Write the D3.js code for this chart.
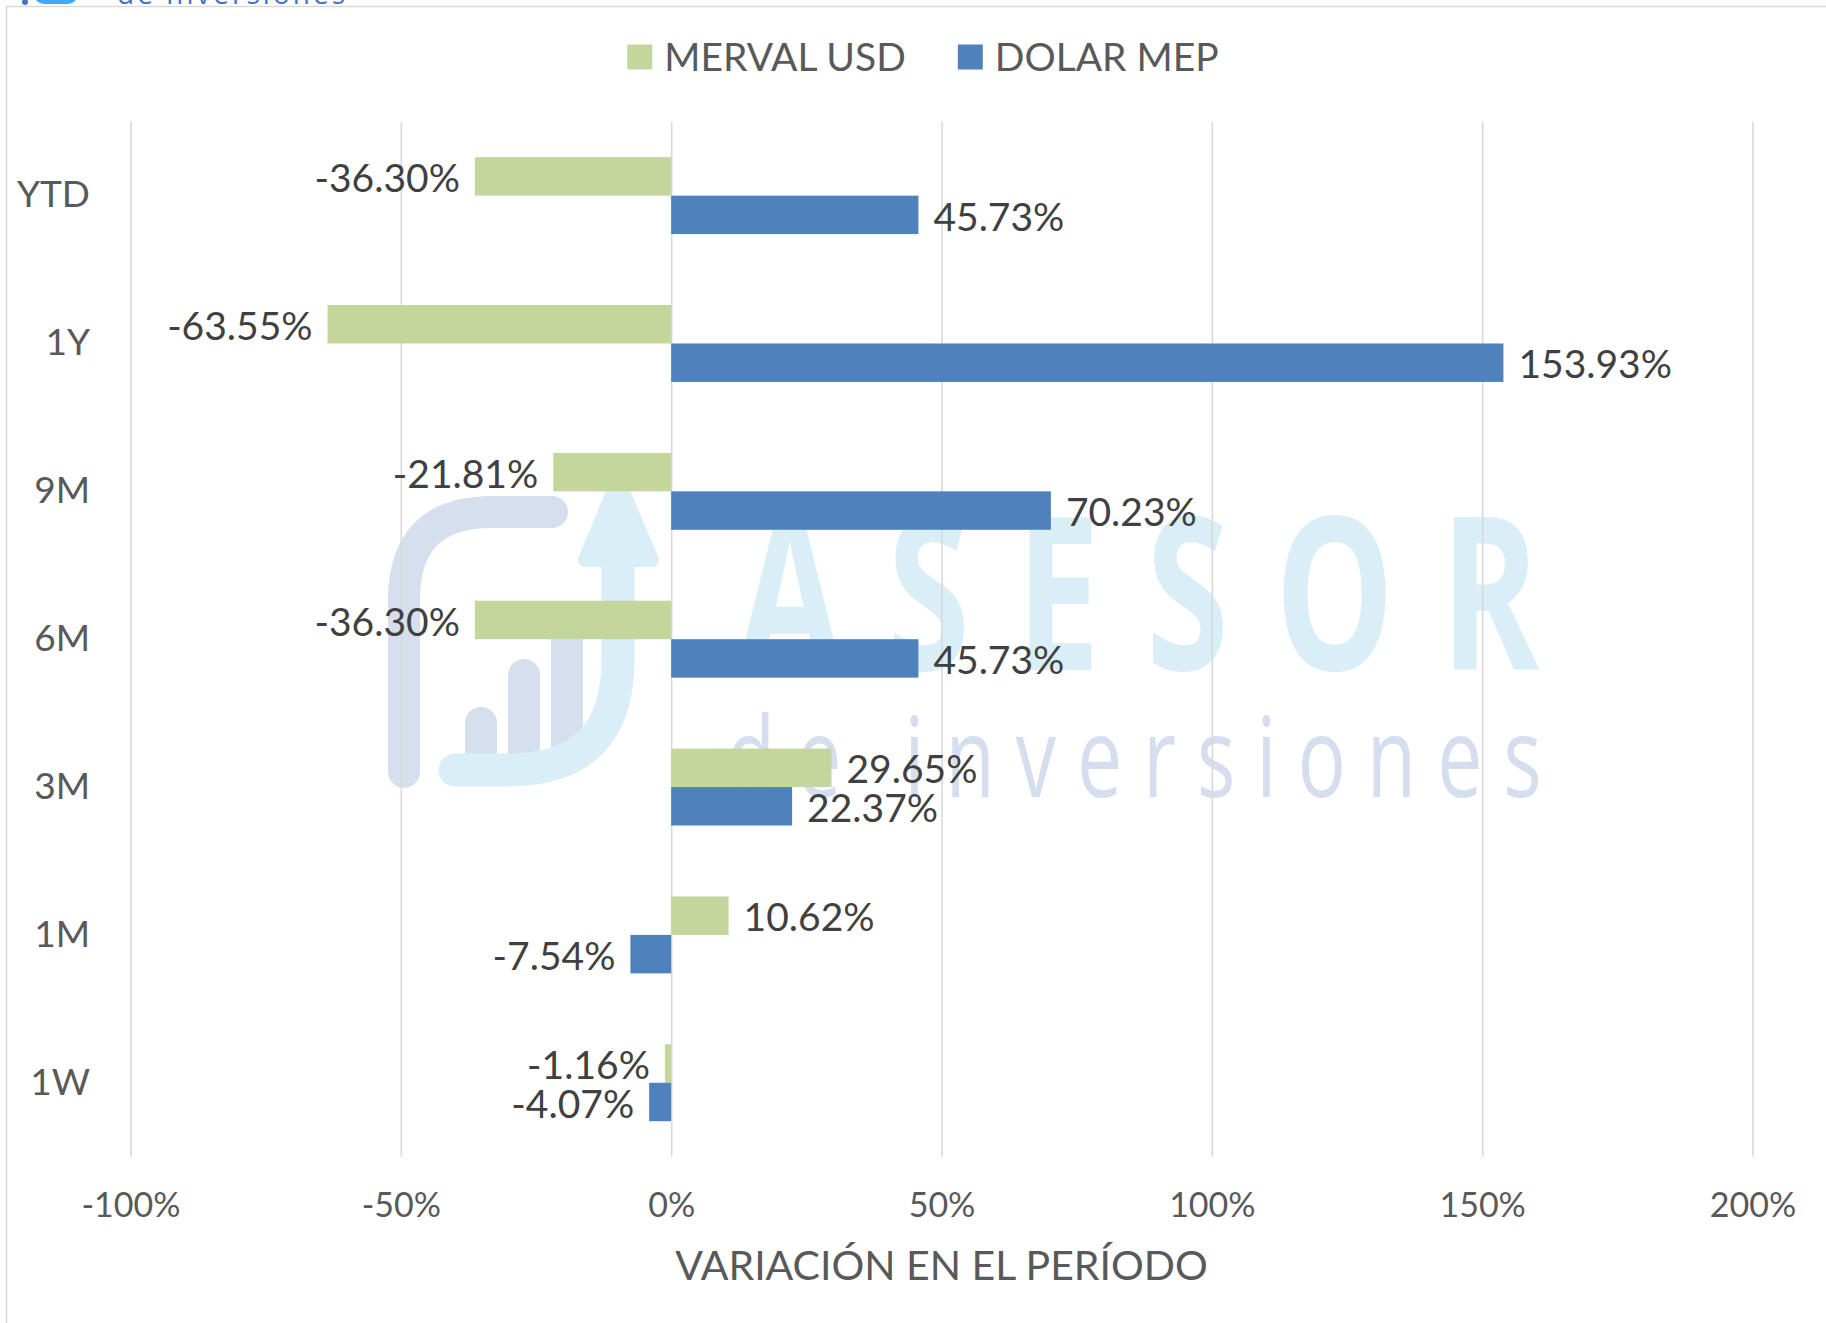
<!DOCTYPE html>
<html>
<head>
<meta charset="utf-8">
<script src="https://cdn.jsdelivr.net/npm/d3@7"></script>
<style>
  body { margin: 0; background: #fff; }
  svg { display: block; font-family: Lato, "Open Sans", sans-serif; }
</style>
</head>
<body>
<svg id="chart" width="1826" height="1323"></svg>
<script>
// data
const categories = ["YTD", "1Y", "9M", "6M", "3M", "1M", "1W"]
const mervalUsd = [-36.30, -63.55, -21.81, -36.30, 29.65, 10.62, -1.16]
const dolarMep = [45.73, 153.93, 70.23, 45.73, 22.37, -7.54, -4.07]
const seriesNames = ["MERVAL USD", "DOLAR MEP"]
const seriesColors = ["#C3D69B", "#4F81BD"]
const xTicks = [-100, -50, 0, 50, 100, 150, 200]
const axisTitle = "VARIACIÓN EN EL PERÍODO"

const svg = d3.select("#chart")
const W = 1826, H = 1323
const plot = { left: 130.5, right: 1752.5, top: 121.7, bottom: 1156.7 }

// plain hyphen, like the original, not d3's minus sign
const pct = function (v) { return d3.format(".2f")(v).replace("\u2212", "-") + "%" }

svg.append("rect").attr("width", W).attr("height", H).attr("fill", "#fff")

// frame of the chart
svg.append("rect")
  .attr("x", 6.5).attr("y", 6.5).attr("width", W + 20).attr("height", H + 20)
  .attr("fill", "none").attr("stroke", "#D9D9D9").attr("stroke-width", 1.5)

// logo cut off at the top edge
svg.append("text").attr("x", 117).attr("y", 4)
  .attr("font-family", "Open Sans").attr("font-size", 28).attr("letter-spacing", 3)
  .attr("fill", "#4472C4").text("de inversiones")
svg.append("rect").attr("x", 34).attr("y", -20).attr("width", 44).attr("height", 24)
  .attr("rx", 10).attr("fill", "#3FA9F5")
svg.append("circle").attr("cx", 25).attr("cy", 2).attr("r", 3).attr("fill", "#4472C4")

// watermark
const wm = svg.append("g").attr("class", "watermark")
const lav = "#D6DFEE", cyan = "#D9EEF6"
wm.append("path").attr("d", "M404,772 L404,600 Q404,512 492,512 L552,512")
  .attr("fill", "none").attr("stroke", lav).attr("stroke-width", 32).attr("stroke-linecap", "round")
;[[465, 707], [508, 659], [551, 605]].forEach(function (b) {
  wm.append("rect").attr("x", b[0]).attr("y", b[1]).attr("width", 32).attr("height", 775 - b[1])
    .attr("rx", 16).attr("fill", lav)
})
wm.append("path").attr("d", "M618,540 L618,660 Q618,770 508,770 L455,770")
  .attr("fill", "none").attr("stroke", cyan).attr("stroke-width", 33).attr("stroke-linecap", "round")
wm.append("path").attr("d", "M618,480 L652,560 L585,560 Z")
  .attr("fill", cyan).attr("stroke", cyan).attr("stroke-width", 14).attr("stroke-linejoin", "round")

wm.append("text")
  .attr("transform", "translate(738,670) scale(0.7,1)")
  .attr("font-family", "Open Sans").attr("font-weight", 700).attr("font-size", 214)
  .attr("letter-spacing", 66).attr("fill", "#DAEEF7").text("ASESOR")
wm.append("text")
  .attr("transform", "translate(726,797) scale(0.72,1)")
  .attr("font-family", "Open Sans").attr("font-size", 112)
  .attr("letter-spacing", 29).attr("fill", "#D5DEEF").text("de inversiones")

// scales
const x = d3.scaleLinear().domain([-100, 200]).range([plot.left, plot.right])
const y = d3.scaleBand().domain(categories).range([plot.top, plot.bottom])
  .paddingInner(0.48).paddingOuter(0.24)
const ySub = d3.scaleBand().domain(seriesNames).range([0, y.bandwidth()])

// gridlines
const grid = svg.append("g").attr("transform", "translate(0," + plot.bottom + ")")
  .call(d3.axisBottom(x).tickValues(xTicks).tickSize(-(plot.bottom - plot.top)).tickFormat(""))
grid.select(".domain").remove()
grid.selectAll("line").attr("stroke", "#D9D9D9").attr("stroke-width", 1.6)

// tick labels
const xAxis = svg.append("g").attr("transform", "translate(0,1205)")
  .call(d3.axisBottom(x).tickValues(xTicks).tickSize(0).tickFormat(function (d) { return d + "%" }))
xAxis.select(".domain").remove()
xAxis.selectAll("text").attr("y", 0).attr("dy", "0.35em")
  .attr("font-family", "Lato").attr("font-size", 34).attr("fill", "#595959")

svg.append("text").attr("x", (plot.left + plot.right) / 2).attr("y", 1266).attr("dy", "0.35em")
  .attr("text-anchor", "middle").attr("font-size", 41).attr("fill", "#595959").text(axisTitle)

// category labels
const yAxis = svg.append("g").attr("transform", "translate(90,0)")
  .call(d3.axisLeft(y).tickSize(0).tickPadding(0))
yAxis.select(".domain").remove()
yAxis.selectAll("text").attr("font-family", "Lato").attr("font-size", 37).attr("fill", "#595959")

// bars
const series = [mervalUsd, dolarMep]
const rows = []
series.forEach(function (vals, s) {
  vals.forEach(function (v, i) { rows.push({ cat: categories[i], name: seriesNames[s], s: s, v: v }) })
})

svg.append("g").selectAll("rect").data(rows).join("rect")
  .attr("x", function (d) { return x(Math.min(0, d.v)) })
  .attr("width", function (d) { return Math.abs(x(d.v) - x(0)) })
  .attr("y", function (d) { return y(d.cat) + ySub(d.name) })
  .attr("height", ySub.bandwidth())
  .attr("fill", function (d) { return seriesColors[d.s] })

svg.append("g").selectAll("text").data(rows).join("text")
  .attr("x", function (d) { return d.v < 0 ? x(d.v) - 15 : x(d.v) + 15 })
  .attr("y", function (d) { return y(d.cat) + ySub(d.name) + ySub.bandwidth() / 2 + 2 })
  .attr("dy", "0.35em")
  .attr("text-anchor", function (d) { return d.v < 0 ? "end" : "start" })
  .attr("font-size", 39).attr("fill", "#404040")
  .text(function (d) { return pct(d.v) })

// legend, centred on the frame
const legend = svg.append("g")
const items = legend.selectAll("g").data(seriesNames).join("g")
items.append("rect").attr("width", 25).attr("height", 25).attr("y", -12.5)
  .attr("fill", function (d, i) { return seriesColors[i] })
items.append("text").attr("x", 37).attr("dy", "0.35em")
  .attr("font-size", 39).attr("fill", "#595959").text(function (d) { return d })
let lx = 0
items.each(function () {
  const g = d3.select(this)
  g.attr("transform", "translate(" + lx + ",0)")
  lx += 37 + g.select("text").node().getComputedTextLength() + 52
})
lx -= 52
legend.attr("transform", "translate(" + (923 - lx / 2) + ",57)")
</script>
</body>
</html>
